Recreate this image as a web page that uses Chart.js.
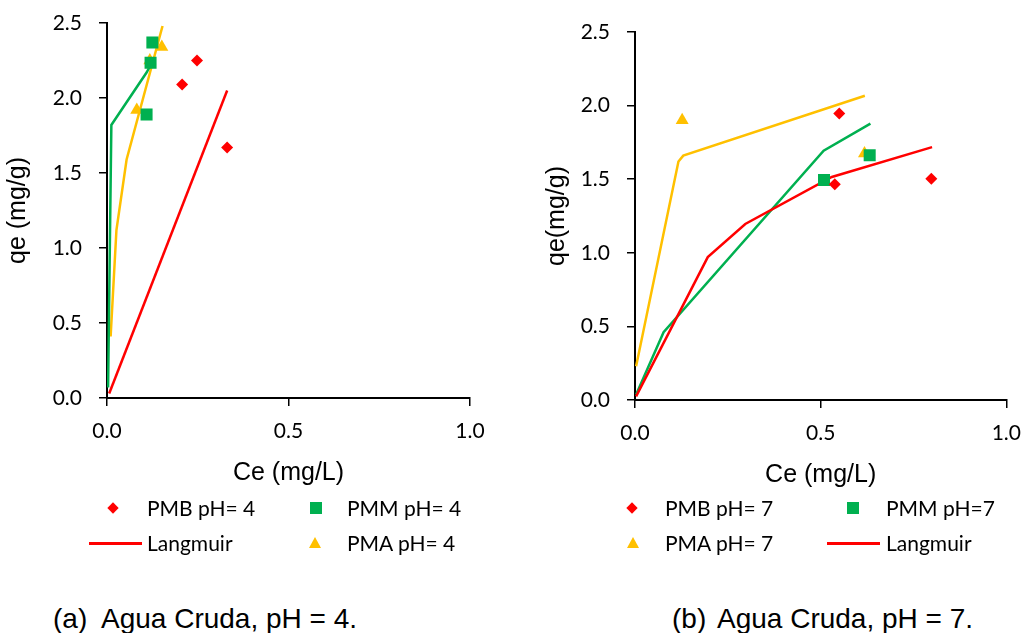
<!DOCTYPE html>
<html>
<head>
<meta charset="utf-8">
<script src="https://cdn.jsdelivr.net/npm/chart.js@4"></script>
<style>
  body { margin: 0; background: #fff; }
  #page { position: relative; width: 1034px; height: 633px; overflow: hidden; background: #fff; }
  canvas { position: absolute; top: 0; }
  .row { position: absolute; height: 20px; font: 21px Lato, sans-serif; color: #000; }
  .item { position: absolute; top: 0; height: 20px; line-height: 20px; white-space: nowrap; }
  .mk { position: absolute; }
  .diamond { width: 8px; height: 8px; background: #FF0000; transform: rotate(45deg); top: 6px; }
  .square { width: 12px; height: 12px; background: #00B050; top: 4px; }
  .tri { width: 0; height: 0; border-left: 6.5px solid transparent; border-right: 6.5px solid transparent; border-bottom: 11px solid #FFC000; top: 4px; }
  .line { height: 3px; background: #FF0000; top: 9px; }
  .cap { position: absolute; top: 605px; font: 28px "Liberation Sans", Arial, sans-serif; line-height: 28px; white-space: nowrap; }
</style>
</head>
<body>
<div id="page">
  <canvas id="chartA" width="500" height="500" style="left:0px"></canvas>
  <canvas id="chartB" width="514" height="500" style="left:520px"></canvas>

  <!-- legend (a) -->
  <div class="row" style="top:498px;left:0;width:500px">
    <div class="mk diamond" style="left:109px"></div>
    <div class="item" style="left:147px">PMB pH= 4</div>
    <div class="mk square" style="left:310px"></div>
    <div class="item" style="left:347px">PMM pH= 4</div>
  </div>
  <div class="row" style="top:533px;left:0;width:500px">
    <div class="mk line" style="left:89px;width:53px"></div>
    <div class="item" style="left:147px">Langmuir</div>
    <div class="mk tri" style="left:309px"></div>
    <div class="item" style="left:347px">PMA pH= 4</div>
  </div>
  <!-- legend (b) -->
  <div class="row" style="top:498px;left:0;width:1034px">
    <div class="mk diamond" style="left:628px"></div>
    <div class="item" style="left:665px">PMB pH= 7</div>
    <div class="mk square" style="left:847px"></div>
    <div class="item" style="left:886px">PMM pH=7</div>
  </div>
  <div class="row" style="top:533px;left:0;width:1034px">
    <div class="mk tri" style="left:627px"></div>
    <div class="item" style="left:665px">PMA pH= 7</div>
    <div class="mk line" style="left:827px;width:53px"></div>
    <div class="item" style="left:886px">Langmuir</div>
  </div>

  <div class="cap" style="left:53px">(a)</div>
  <div class="cap" style="left:101px">Agua Cruda, pH = 4.</div>
  <div class="cap" style="left:672px">(b)</div>
  <div class="cap" style="left:717px">Agua Cruda, pH = 7.</div>
</div>

<script>
// ---- (a) Agua Cruda, pH = 4 ----
const pmb4Ce = [0.207, 0.248, 0.331];
const pmb4Qe = [2.09, 2.25, 1.67];
const pmm4Ce = [0.109, 0.120, 0.125];
const pmm4Qe = [1.89, 2.235, 2.37];
const pma4Ce = [0.082, 0.118, 0.151];
const pma4Qe = [1.92, 2.25, 2.34];
const lang4Ce = [0.006, 0.331];
const lang4Qe = [0.03, 2.05];
const fitPmm4Ce = [0.003, 0.012, 0.109, 0.116, 0.121];
const fitPmm4Qe = [0.07, 1.82, 2.17, 2.20, 2.22];
const fitPma4Ce = [0.010, 0.026, 0.054, 0.153];
const fitPma4Qe = [0.41, 1.12, 1.59, 2.48];

// ---- (b) Agua Cruda, pH = 7 ----
const pmb7Ce = [0.538, 0.55, 0.798];
const pmb7Qe = [1.465, 1.947, 1.503];
const pmm7Ce = [0.509, 0.632];
const pmm7Qe = [1.494, 1.663];
const pma7Ce = [0.127, 0.618];
const pma7Qe = [1.90, 1.675];
const lang7Ce = [0.003, 0.196, 0.297, 0.530, 0.800];
const lang7Qe = [0.025, 0.971, 1.196, 1.515, 1.718];
const fitPmm7Ce = [0.003, 0.077, 0.508, 0.634];
const fitPmm7Qe = [0.037, 0.46, 1.693, 1.877];
const fitPma7Ce = [0.003, 0.117, 0.130, 0.619];
const fitPma7Qe = [0.229, 1.62, 1.66, 2.067];

const xTicks = [0, 0.5, 1.0];
const yTicks = [0, 0.5, 1.0, 1.5, 2.0, 2.5];

const RED = '#FF0000';
const GREEN = '#00B050';
const YELLOW = '#FFC000';

Chart.defaults.devicePixelRatio = 1;
Chart.defaults.animation = false;

function pts(xs, ys) {
    return xs.map((x, i) => ({ x: x, y: ys[i] }));
}

function markers(label, xs, ys, color, style, radius) {
    return {
        label: label,
        data: pts(xs, ys),
        showLine: false,
        pointStyle: style,
        pointRadius: radius,
        pointBackgroundColor: color,
        pointBorderColor: color,
        pointBorderWidth: 0
    };
}

function curve(label, xs, ys, color) {
    return {
        label: label,
        data: pts(xs, ys),
        showLine: true,
        borderColor: color,
        borderWidth: 2.5,
        pointRadius: 0,
        tension: 0,
        fill: false
    };
}

function makeChart(id, datasets, cfg) {
    const ctx = document.getElementById(id).getContext('2d');
    return new Chart(ctx, {
        type: 'scatter',
        data: { datasets: datasets },
        options: {
            responsive: false,
            layout: { padding: { top: cfg.padTop, right: cfg.padRight, left: 0, bottom: 0 } },
            plugins: { legend: { display: false }, tooltip: { enabled: false } },
            scales: {
                x: {
                    type: 'linear',
                    min: 0,
                    max: 1,
                    afterBuildTicks: s => { s.ticks = xTicks.map(v => ({ value: v })); },
                    afterFit: s => { s.height = cfg.xHeight; },
                    border: { color: '#000', width: 2 },
                    grid: { drawOnChartArea: false, color: '#000', tickLength: 8, lineWidth: 1.5 },
                    ticks: {
                        padding: 13,
                        color: '#000',
                        font: { family: 'Lato', size: 21 },
                        callback: v => v.toFixed(1)
                    },
                    title: {
                        display: true,
                        text: 'Ce (mg/L)',
                        color: '#000',
                        font: { family: 'Liberation Sans', size: 25 },
                        padding: { top: 0, bottom: cfg.xTitlePad }
                    }
                },
                y: {
                    type: 'linear',
                    min: 0,
                    max: 2.5,
                    afterBuildTicks: s => { s.ticks = yTicks.map(v => ({ value: v })); },
                    // fixed axis width; drop the label overhang so layout.padding sets the top
                    afterFit: s => { s.width = cfg.yWidth; s.paddingTop = 0; s.paddingBottom = 0; },
                    border: { color: '#000', width: 2 },
                    grid: { drawOnChartArea: false, color: '#000', tickLength: 8, lineWidth: 1.5 },
                    ticks: {
                        padding: 17,
                        color: '#000',
                        font: { family: 'Lato', size: 21 },
                        callback: v => v.toFixed(1)
                    },
                    title: {
                        display: true,
                        text: cfg.yTitle,
                        color: '#000',
                        font: { family: 'Liberation Sans', size: 25 },
                        padding: { top: cfg.yTitlePad, bottom: 0 }
                    }
                }
            }
        }
    });
}

makeChart('chartA', [
    markers('PMB pH= 4', pmb4Ce, pmb4Qe, RED, 'rectRot', 6),
    markers('PMM pH= 4', pmm4Ce, pmm4Qe, GREEN, 'rect', 8.5),
    markers('PMA pH= 4', pma4Ce, pma4Qe, YELLOW, 'triangle', 7.5),
    curve('Langmuir', lang4Ce, lang4Qe, RED),
    curve('PMM fit', fitPmm4Ce, fitPmm4Qe, GREEN),
    curve('PMA fit', fitPma4Ce, fitPma4Qe, YELLOW)
], { padTop: 23, padRight: 30, yWidth: 107, xHeight: 102, yTitle: 'qe (mg/g)', yTitlePad: 3, xTitlePad: 12 });

makeChart('chartB', [
    markers('PMB pH= 7', pmb7Ce, pmb7Qe, RED, 'rectRot', 6),
    markers('PMM pH=7', pmm7Ce, pmm7Qe, GREEN, 'rect', 8.5),
    markers('PMA pH= 7', pma7Ce, pma7Qe, YELLOW, 'triangle', 7.5),
    curve('Langmuir', lang7Ce, lang7Qe, RED),
    curve('PMM fit', fitPmm7Ce, fitPmm7Qe, GREEN),
    curve('PMA fit', fitPma7Ce, fitPma7Qe, YELLOW)
], { padTop: 32, padRight: 19, yWidth: 115, xHeight: 100, yTitle: 'qe(mg/g)', yTitlePad: 22, xTitlePad: 10 });
</script>
</body>
</html>
